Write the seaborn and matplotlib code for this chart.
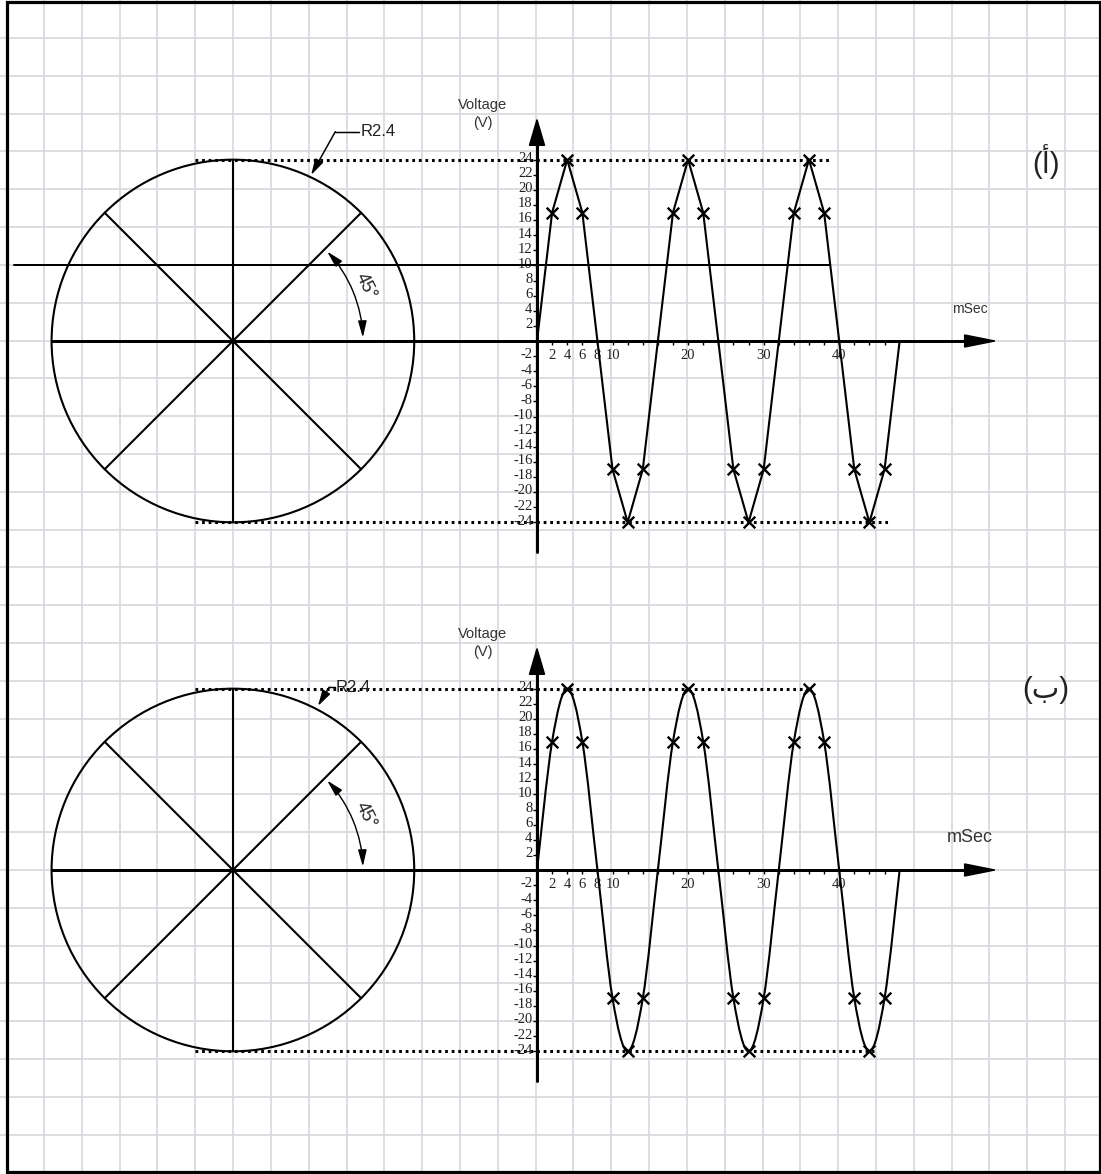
import numpy as np
import pandas as pd
import matplotlib
matplotlib.use("Agg")
import matplotlib.pyplot as plt
import seaborn as sns
from matplotlib.patches import Circle, Rectangle, PathPatch, FancyArrowPatch, Polygon
from matplotlib.path import Path
from matplotlib.transforms import Affine2D

# ---------------------------------------------------------------- data
time_ms = [0, 2, 4, 6, 8, 10, 12, 14, 16, 18, 20, 22, 24,
           26, 28, 30, 32, 34, 36, 38, 40, 42, 44, 46, 48]
voltage_v = [0, 17, 24, 17, 0, -17, -24, -17, 0, 17, 24, 17, 0,
             -17, -24, -17, 0, 17, 24, 17, 0, -17, -24, -17, 0]

y_tick_values = [24, 22, 20, 18, 16, 14, 12, 10, 8, 6, 4, 2,
                 -2, -4, -6, -8, -10, -12, -14, -16, -18, -20, -22, -24]
x_tick_labels = [2, 4, 6, 8, 10, 20, 30, 40]
x_tick_marks = [2, 4, 6, 8, 10, 12, 14, 16, 18, 20, 22, 24,
                26, 28, 30, 32, 34, 36, 38, 40, 42, 44, 46]

peak_v = 24            # phasor radius == peak voltage (2.4 cm at 10 V/cm)
projection_level_v = 10
phasor_angles_deg = [45, 90, 135, 225, 270, 315]
radius_label = "R2.4"
angle_label = "45°"
y_axis_label = ["Voltage", "(V)"]
x_axis_label = "mSec"
panel_tags = ["(أ)", "(ب)"]

df = pd.DataFrame({"time_ms": time_ms, "voltage_v": voltage_v})
marks = df[df["voltage_v"] != 0]

# ---------------------------------------------------------------- layout
W, H = 1101, 1174
PX = 7.555                 # pixels per ms and per volt
ORIGIN_X = 537             # pixel column of the time axis origin
ORIGIN_Y = [341, 870]      # pixel rows of the two voltage origins
PHASOR_T = -40.25          # horizontal position of the phasor centre (axis units)
LW = 1 / 1.389             # points per pixel at 100 dpi

sns.set_theme(style="white")
plt.rcParams["font.family"] = ["Liberation Sans", "DejaVu Sans"]

fig = plt.figure(figsize=(W / 100, H / 100), dpi=100)
fig.patch.set_facecolor("white")

# ------------------------------------------------ graph paper background
bg = fig.add_axes([0, 0, 1, 1])
bg.set_xlim(0, W)
bg.set_ylim(H, 0)
bg.axis("off")
step = 37.82
gx = np.arange(44, W, step)
gy = np.arange(38, H - 5, step)
bg.vlines(gx, 0, H, color="#d4d7dc", lw=1.6 * LW, zorder=0)
bg.hlines(gy, 0, W, color="#d4d7dc", lw=1.6 * LW, zorder=0)
bg.add_patch(Rectangle((6.5, 1.5), W - 8, H - 4, fill=False,
                       edgecolor="black", lw=3.2 * LW, zorder=10))


def smooth_path(ts, vs):
    """Cubic Bezier path passing through every sample (Catmull-Rom tangents)."""
    pts = np.column_stack([ts, vs]).astype(float)
    verts = [pts[0]]
    codes = [Path.MOVETO]
    n = len(pts)
    for i in range(n - 1):
        p0 = pts[i - 1] if i > 0 else pts[i]
        p1, p2 = pts[i], pts[i + 1]
        p3 = pts[i + 2] if i + 2 < n else pts[i + 1]
        verts += [p1 + (p2 - p0) / 6, p2 - (p3 - p1) / 6, p2]
        codes += [Path.CURVE4] * 3
    return Path(verts, codes)


def panel(oy, smooth, dot_top_end, dot_bot_end, tag, msec_size,
          label_tip, label_elbow, label_end, show_level):
    ax = fig.add_axes([0, 0, 1, 1])
    ax.patch.set_alpha(0)

    # ---- waveform
    if smooth:
        ax.add_patch(PathPatch(smooth_path(df["time_ms"], df["voltage_v"]),
                               fill=False, edgecolor="black", lw=2.1 * LW, zorder=4))
    else:
        sns.lineplot(data=df, x="time_ms", y="voltage_v", ax=ax, color="black",
                     lw=2.1 * LW, estimator=None, sort=False, legend=False, zorder=4)
    sns.scatterplot(data=marks, x="time_ms", y="voltage_v", ax=ax, marker="x",
                    s=70, color="black", linewidth=1.7, legend=False, zorder=5)

    # ---- phasor circle and spokes
    ax.add_patch(Circle((PHASOR_T, 0), peak_v, fill=False,
                        edgecolor="black", lw=2.1 * LW, zorder=3))
    for a in phasor_angles_deg:
        r = np.deg2rad(a)
        ax.plot([PHASOR_T, PHASOR_T + peak_v * np.cos(r)],
                [0, peak_v * np.sin(r)], color="black", lw=2.1 * LW, zorder=3)

    # ---- axes with arrowheads
    ax.plot([PHASOR_T - peak_v, 56.8], [0, 0], color="black", lw=3 * LW, zorder=3)
    ax.add_patch(Polygon([[56.6, 0.8], [60.6, 0], [56.6, -0.8]],
                         closed=True, color="black", zorder=3))
    ax.plot([0, 0], [-27.9, 26.2], color="black", lw=3 * LW, zorder=3)
    ax.add_patch(Polygon([[-1.0, 25.9], [0, 29.3], [1.0, 25.9]],
                         closed=True, color="black", zorder=3))

    # ---- ticks
    ax.hlines(y_tick_values, -0.55, 0, color="black", lw=1.4 * LW, zorder=3)
    ax.vlines(x_tick_marks, -0.5, 0, color="black", lw=1.4 * LW, zorder=3)
    for v in y_tick_values:
        ax.text(-0.6, v + 0.15, f"{v}", ha="right", va="center", fontsize=10.5,
                family="Liberation Serif", color="#222222")
    for t in x_tick_labels:
        ax.text(t, -1.9, f"{t}", ha="center", va="center", fontsize=10.5,
                family="Liberation Serif", color="#222222")

    # ---- peak projection lines
    ax.plot([-45.3, dot_top_end], [peak_v, peak_v], color="black",
            lw=2.2, ls=(0, (0.9, 1.25)), zorder=2)
    ax.plot([-45.3, dot_bot_end], [-peak_v, -peak_v], color="black",
            lw=2.2, ls=(0, (0.9, 1.25)), zorder=2)
    if show_level:
        ax.plot([-69.2, 38.8], [projection_level_v, projection_level_v],
                color="black", lw=2 * LW, zorder=3)

    # ---- radius callout
    ax.annotate("", xy=label_tip, xytext=label_elbow,
                arrowprops=dict(arrowstyle="-|>,head_length=0.8,head_width=0.22",
                                color="black", lw=1.5 * LW, shrinkA=0, shrinkB=0),
                zorder=6)
    ax.plot([label_elbow[0], label_end[0]], [label_elbow[1], label_end[1]],
            color="black", lw=1.5 * LW, zorder=6)
    ax.text(label_end[0] + 0.15, label_end[1], radius_label, ha="left",
            va="center", fontsize=12, color="#222222", zorder=6)

    # ---- 45 degree arc
    arc_r = 17.2
    arc = Path.arc(1.5, 43.5)
    arc = arc.transformed(Affine2D().scale(arc_r).translate(PHASOR_T, 0))
    ax.add_patch(FancyArrowPatch(path=arc,
                                 arrowstyle="<|-|>,head_length=10,head_width=2.6",
                                 color="black", lw=1.4 * LW, zorder=6))
    ax.text(-22.7, 7.2, angle_label, rotation=-64, ha="center", va="center",
            fontsize=13, color="#222222", rotation_mode="anchor")

    # ---- labels
    ax.text(-7.15, 31.3, y_axis_label[0], ha="center", va="center",
            fontsize=10.5, color="#333333")
    ax.text(-7.15, 28.8, y_axis_label[1], ha="center", va="center",
            fontsize=10.5, color="#333333")
    ax.text(57.3, 4.3, x_axis_label, ha="center", va="center",
            fontsize=msec_size, color="#333333")
    ax.text(67.4, 23.8, tag, ha="center", va="center", fontsize=21,
            family=["Liberation Sans", "DejaVu Sans"], color="#222222")

    ax.set_xlim(-ORIGIN_X / PX, (W - ORIGIN_X) / PX)
    ax.set_ylim((oy - H) / PX, oy / PX)
    ax.axis("off")
    return ax


panel(ORIGIN_Y[0], smooth=False, dot_top_end=38.65, dot_bot_end=46.5,
      tag=panel_tags[0], msec_size=10,
      label_tip=(-29.9, 21.97), label_elbow=(-26.7, 27.7), label_end=(-23.5, 27.7),
      show_level=True)
panel(ORIGIN_Y[1], smooth=True, dot_top_end=35.9, dot_bot_end=44.6,
      tag=panel_tags[1], msec_size=13,
      label_tip=(-29.0, 21.7), label_elbow=(-27.5, 24.2), label_end=(-26.8, 24.2),
      show_level=False)

fig.savefig("out.png", dpi=100, facecolor="white")
